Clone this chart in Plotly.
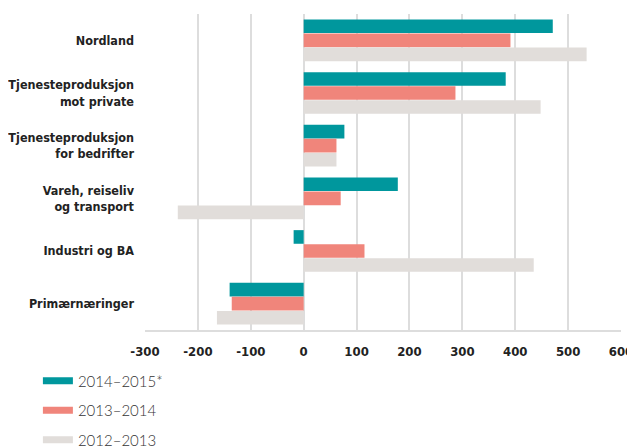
import plotly.graph_objects as go

categories = ["Nordland", "Tjenesteproduksjon<br>mot private", "Tjenesteproduksjon<br>for bedrifter",
              "Vareh, reiseliv<br>og transport", "Industri og BA", "Primærnæringer"]
series_names = ["2014–2015*", "2013–2014", "2012–2013"]
v_2014_2015 = [471, 382, 77, 178, -19, -140]
v_2013_2014 = [391, 287, 62, 70, 115, -136]
v_2012_2013 = [535, 448, 62, -238, 435, -164]
colors = ["#00979D", "#F0857B", "#E1DDDA"]
tick_vals = [-300, -200, -100, 0, 100, 200, 300, 400, 500, 600]
tick_text = ["-300", "-200", "-100", "0", "100", "200", "300", "400", "500", "600"]

FONT = "DejaVu Sans Condensed, Roboto, sans-serif"

fig = go.Figure()
for name, vals, col in zip(series_names, [v_2014_2015, v_2013_2014, v_2012_2013], colors):
    fig.add_trace(go.Bar(y=categories, x=vals, orientation="h", marker=dict(color=col, line=dict(width=0)),
                         showlegend=False, name=name))
for i, (name, col) in enumerate(zip(series_names, colors)):
    fig.add_trace(go.Scatter(x=[None], y=[None], mode="lines", name=name, legendgroup=f"g{i}",
                             line=dict(color=col, width=7)))

fig.update_layout(
    width=627, height=440,
    margin=dict(l=137, r=14, t=6, b=118),
    paper_bgcolor="white", plot_bgcolor="white",
    barmode="group", bargap=0.2, bargroupgap=0.03,
    font=dict(family=FONT, size=12.5, color="#222"),
    xaxis=dict(range=[-300, 600], tickvals=tick_vals, ticktext=tick_text, showgrid=True,
               gridcolor="#dddddd", gridwidth=1.5, automargin=False,
               zeroline=False, showline=True, linecolor="#dddddd", linewidth=1.5,
               tickfont=dict(family=FONT, size=13, color="#222", weight="bold"),
               ticks="", ticklen=0, ticklabelstandoff=9),
    yaxis=dict(autorange="reversed", showgrid=False, zeroline=False, showline=False, ticks="",
               automargin=False,
               tickfont=dict(family=FONT, size=12.5, color="#222", weight="bold"),
               ticklabelstandoff=10),
    legend=dict(orientation="v", x=-0.225, xanchor="left", xref="paper",
                y=0.19, yanchor="top", yref="container",
                font=dict(family="Lato", size=15, color="#333", weight=300),
                tracegroupgap=7, itemwidth=30, borderwidth=0),
)
fig.write_html("out.html")
